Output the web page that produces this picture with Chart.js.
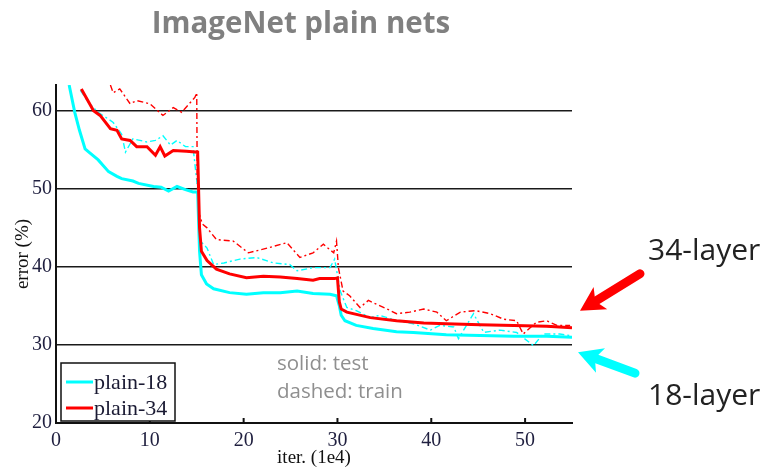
<!DOCTYPE html>
<html>
<head>
<meta charset="utf-8">
<script src="https://cdn.jsdelivr.net/npm/chart.js@4/dist/chart.umd.min.js"></script>
<style>
  html, body { margin: 0; padding: 0; background: #ffffff; }
  #wrap { width: 770px; height: 469px; position: relative; }
</style>
</head>
<body>
<div id="wrap"><canvas id="c" width="770" height="469"></canvas></div>
<script>
// ImageNet plain nets: top-1 error vs. iterations (1e4)
const TITLE = 'ImageNet plain nets';
const X_LABEL = 'iter. (1e4)';
const Y_LABEL = 'error (%)';
const X_TICKS = [0, 10, 20, 30, 40, 50];
const Y_TICKS = [20, 30, 40, 50, 60];

// plain-18, test (solid)
const iter18Test = [1.4, 2.0, 2.5, 3.1, 3.6, 4.5, 5.6, 6.5, 7.0, 8.2, 8.8, 10.4, 11.2, 12.0, 12.9, 13.8, 14.6, 15.1,
  15.3, 15.5, 16.05, 16.8, 18.5, 20.3, 22.1, 23.9, 25.7, 27.4, 29.2, 29.9, 30.2, 30.4, 30.8, 32.0, 33.8, 36.3,
  38.1, 41.6, 45.2, 48.8, 52.3, 55.0];
const err18Test = [63.3, 59.8, 57.5, 55.1, 54.6, 53.7, 52.2, 51.6, 51.3, 51.0, 50.7, 50.3, 50.2, 49.7, 50.3, 49.9, 49.6, 49.6,
  42.0, 39.0, 37.8, 37.2, 36.7, 36.5, 36.7, 36.7, 36.9, 36.6, 36.5, 36.3, 35.0, 33.8, 33.1, 32.5, 32.1, 31.7,
  31.6, 31.3, 31.2, 31.1, 31.1, 31.0];

// plain-34, test (solid)
const iter34Test = [2.7, 4.0, 4.7, 5.8, 6.5, 7.0, 7.9, 8.6, 9.7, 10.6, 11.1, 11.6, 12.5, 13.9, 15.1,
  15.3, 15.5, 16.1, 17.1, 18.5, 20.3, 22.1, 23.9, 25.7, 27.4, 28.1, 29.7, 30.0, 30.2, 30.4, 31.0, 33.5, 36.3,
  39.2, 41.6, 45.2, 48.8, 52.3, 55.0];
const err34Test = [62.8, 60.0, 59.4, 57.7, 57.5, 56.4, 56.2, 55.4, 55.4, 54.3, 55.4, 54.2, 54.9, 54.8, 54.7,
  45.0, 42.0, 40.8, 39.7, 39.1, 38.6, 38.8, 38.7, 38.5, 38.3, 38.5, 38.5, 38.6, 35.5, 34.6, 34.2, 33.5, 33.1,
  32.8, 32.7, 32.6, 32.5, 32.4, 32.2];

// plain-18, train (dashed)
const iter18Train = [2.6, 3.5, 4.5, 5.5, 6.1, 7.0, 7.4, 8.2, 9.7, 10.6, 11.4, 12.2, 12.9, 13.8, 14.6, 15.1,
  15.4, 16.1, 16.8, 17.9, 19.6, 21.4, 23.2, 24.9, 25.7, 27.4, 29.2, 29.7, 30.3, 31.0, 32.0, 33.5, 34.5, 36.3,
  38.1, 39.9, 40.9, 42.4, 42.9, 44.5, 45.6, 47.3, 49.1, 50.9, 51.9, 53.7, 54.8];
const err18Train = [62.6, 61.0, 59.8, 59.0, 58.5, 57.0, 54.7, 56.4, 56.0, 56.2, 56.8, 55.6, 56.2, 55.4, 55.4, 50.0,
  43.3, 42.4, 40.3, 40.5, 41.0, 41.2, 40.5, 40.3, 39.5, 39.9, 39.9, 41.0, 36.9, 34.8, 34.4, 33.5, 33.8, 33.1,
  32.7, 31.9, 32.5, 32.3, 30.8, 34.0, 31.6, 31.9, 31.6, 29.9, 31.4, 31.4, 31.2];

// plain-34, train (dashed)
const iter34Train = [5.8, 6.1, 6.8, 7.9, 8.6, 10.0, 11.4, 12.5, 13.4, 14.8, 15.0, 15.05, 15.2, 15.6, 16.1, 17.1,
  18.9, 20.5, 22.5, 24.6, 26.0, 27.4, 28.5, 29.6, 29.9, 30.1, 30.6, 31.3, 32.4, 33.3, 34.2, 35.3, 36.3, 37.7,
  39.2, 40.6, 41.6, 43.1, 44.7, 46.3, 47.7, 49.1, 49.8, 51.2, 52.3, 53.4, 54.8];
const err34Train = [63.3, 62.3, 62.8, 60.9, 61.3, 60.9, 59.4, 60.4, 59.8, 61.7, 62.3, 52.0, 47.0, 45.5, 45.0, 43.5,
  43.3, 41.8, 42.4, 43.1, 41.2, 41.8, 42.9, 41.8, 43.3, 39.9, 36.9, 36.3, 34.8, 35.7, 35.2, 34.6, 34.0, 34.2,
  34.6, 34.2, 33.1, 34.2, 34.4, 34.0, 33.3, 33.1, 31.4, 32.9, 33.1, 32.5, 32.5];

const CYAN = '#00ffff';
const RED = '#ff0000';
const toPoints = (xs, ys) => xs.map((x, i) => ({ x: x, y: ys[i] }));

const testLine = { borderWidth: 3, pointRadius: 0, tension: 0, fill: false };
const trainLine = { borderWidth: 1.4, pointRadius: 0, tension: 0, fill: false, borderDash: [6, 3, 2, 3] };

// draws the title, inward x ticks, legend, notes and arrows
const decor = {
  id: 'decor',
  afterDraw(chart) {
    const ctx = chart.ctx;
    const xs = chart.scales.x, ys = chart.scales.y, ca = chart.chartArea;
    ctx.save();

    // title
    ctx.fillStyle = '#808080';
    ctx.font = 'bold 29.5px "Open Sans"';
    ctx.textAlign = 'center';
    ctx.textBaseline = 'middle';
    ctx.fillText(TITLE, 301, 25);

    // inward tick marks on the x axis
    ctx.strokeStyle = '#111111';
    ctx.lineWidth = 2;
    xs.ticks.forEach(t => {
      const px = xs.getPixelForValue(t.value);
      ctx.beginPath();
      ctx.moveTo(px, ca.bottom);
      ctx.lineTo(px, ca.bottom - 5);
      ctx.stroke();
    });

    // legend box
    const lx = ca.left + 5, ly = 363, lw = 114, lh = 58;
    ctx.fillStyle = '#ffffff';
    ctx.fillRect(lx, ly, lw, lh);
    ctx.strokeStyle = '#111111';
    ctx.lineWidth = 1.5;
    ctx.strokeRect(lx, ly, lw, lh);
    const entries = chart.data.datasets.filter(d => d.legendRow !== undefined)
      .sort((a, b) => a.legendRow - b.legendRow);
    ctx.font = '22px "Liberation Serif"';
    ctx.textAlign = 'left';
    ctx.textBaseline = 'middle';
    entries.forEach((d, i) => {
      const ry = 382 + i * 26;
      ctx.strokeStyle = d.borderColor;
      ctx.lineWidth = 3;
      ctx.beginPath();
      ctx.moveTo(lx + 5, ry);
      ctx.lineTo(lx + 32, ry);
      ctx.stroke();
      ctx.fillStyle = '#1a1a33';
      ctx.fillText(d.label, lx + 33, ry + 1);
    });

    // line style notes
    ctx.fillStyle = '#8f8f8f';
    ctx.font = '20.5px "Open Sans"';
    ctx.fillText('solid: test', 277, 364);
    ctx.fillText('dashed: train', 277, 392);

    // arrows pointing at the final test errors
    const endX = xs.getPixelForValue(iter34Test[iter34Test.length - 1]);
    const end34 = ys.getPixelForValue(err34Test[err34Test.length - 1]);
    const end18 = ys.getPixelForValue(err18Test[err18Test.length - 1]);
    drawArrow(ctx, endX + 68, end34 - 54, endX + 8, end34 - 17, RED);
    drawArrow(ctx, endX + 63, end18 + 36, endX + 6, end18 + 15, CYAN);

    ctx.fillStyle = '#222222';
    ctx.font = '30px "Open Sans"';
    ctx.fillText('34-layer', endX + 76, 251);
    ctx.fillText('18-layer', endX + 76, 396);

    ctx.restore();
  }
};

function drawArrow(ctx, x0, y0, x1, y1, color) {
  const dx = x1 - x0, dy = y1 - y0;
  const len = Math.hypot(dx, dy);
  const ux = dx / len, uy = dy / len;
  const head = 24, half = 13;
  const bx = x1 - ux * head, by = y1 - uy * head;
  ctx.strokeStyle = color;
  ctx.fillStyle = color;
  ctx.lineWidth = 9;
  ctx.lineCap = 'round';
  ctx.beginPath();
  ctx.moveTo(x0, y0);
  ctx.lineTo(bx + ux * 4, by + uy * 4);
  ctx.stroke();
  ctx.beginPath();
  ctx.moveTo(x1, y1);
  ctx.lineTo(bx - uy * half, by + ux * half);
  ctx.lineTo(bx + ux * 6, by + uy * 6);
  ctx.lineTo(bx + uy * half, by - ux * half);
  ctx.closePath();
  ctx.fill();
}

new Chart(document.getElementById('c'), {
  type: 'line',
  data: {
    datasets: [
      Object.assign({ label: 'plain-34', legendRow: 1, borderColor: RED, data: toPoints(iter34Test, err34Test) }, testLine),
      Object.assign({ label: 'plain-18', legendRow: 0, borderColor: CYAN, data: toPoints(iter18Test, err18Test) }, testLine),
      Object.assign({ label: 'plain-34 train', borderColor: RED, data: toPoints(iter34Train, err34Train) }, trainLine),
      Object.assign({ label: 'plain-18 train', borderColor: CYAN, data: toPoints(iter18Train, err18Train) }, trainLine)
    ]
  },
  options: {
    responsive: false,
    animation: false,
    devicePixelRatio: 1,
    layout: { padding: { left: 0, top: 85, right: 198, bottom: 0 } },
    plugins: { legend: { display: false }, tooltip: { enabled: false }, title: { display: false } },
    scales: {
      x: {
        type: 'linear',
        min: 0,
        max: 55,
        afterBuildTicks: s => { s.ticks = X_TICKS.map(v => ({ value: v })); },
        grid: { drawOnChartArea: false, drawTicks: false },
        border: { display: true, color: '#111111', width: 2 },
        ticks: { color: '#1f1f3f', font: { family: 'Liberation Serif', size: 20 }, padding: 6, maxRotation: 0 },
        title: { display: true, text: X_LABEL, color: '#111111', font: { family: 'Liberation Serif', size: 19 }, padding: { top: 0, bottom: 0 } },
        afterFit: s => { s.height = 46; }
      },
      y: {
        type: 'linear',
        min: 20,
        max: 63.3,
        afterBuildTicks: s => { s.ticks = Y_TICKS.map(v => ({ value: v })); },
        grid: { color: '#1a1a1a', lineWidth: 1.5, drawTicks: false },
        border: { display: true, color: '#111111', width: 2 },
        ticks: { color: '#1f1f3f', font: { family: 'Liberation Serif', size: 20 }, padding: 4 },
        title: { display: true, text: Y_LABEL, color: '#111111', font: { family: 'Liberation Serif', size: 19 }, padding: { top: 12, bottom: 0 } },
        afterFit: s => { s.width = 56; }
      }
    }
  },
  plugins: [decor]
});
</script>
</body>
</html>
